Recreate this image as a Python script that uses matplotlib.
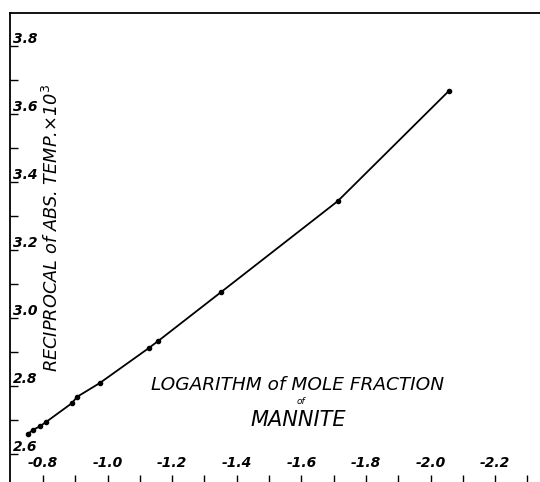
import matplotlib
matplotlib.use("Agg")
from matplotlib import pyplot as plt
import numpy as np

# data
log_mole_fraction = [-0.753, -0.769, -0.791, -0.809, -0.890, -0.905, -0.976,
                     -1.128, -1.156, -1.351, -1.713, -2.057]
recip_temp = [2.659, 2.671, 2.682, 2.694, 2.750, 2.768, 2.809,
              2.912, 2.932, 3.076, 3.344, 3.668]

x_ticks = [-0.8, -1.0, -1.2, -1.4, -1.6, -1.8, -2.0, -2.2]
x_tick_labels = ['-0.8', '-1.0', '-1.2', '-1.4', '-1.6', '-1.8', '-2.0', '-2.2']
y_ticks = [2.6, 2.8, 3.0, 3.2, 3.4, 3.6, 3.8]
y_tick_labels = ['2.6', '2.8', '3.0', '3.2', '3.4', '3.6', '3.8']

fig = plt.figure(figsize=(5.4, 4.82), dpi=100)
ax = fig.add_axes([10 / 540, 0.0, 530 / 540, 469 / 482])

ax.plot(log_mole_fraction, recip_temp, color='k', lw=1.3,
        marker='o', markersize=3)

ax.set_xlim(-0.698, -2.339)
ax.set_ylim(2.518, 3.897)

ax.spines['right'].set_visible(False)
ax.spines['bottom'].set_visible(False)
ax.spines['left'].set_linewidth(1.3)
ax.spines['top'].set_linewidth(1.3)

ax.set_xticks(x_ticks)
ax.set_xticklabels(x_tick_labels)
ax.set_xticks(np.arange(-0.9, -2.31, -0.2), minor=True)
ax.set_yticks(y_ticks)
ax.set_yticklabels(y_tick_labels)
ax.set_yticks(np.arange(2.7, 3.85, 0.2), minor=True)

ax.tick_params(axis='x', which='both', direction='in', length=5, width=1,
               bottom=True, top=False, pad=-19)
ax.tick_params(axis='y', which='both', direction='in', length=6, width=1,
               left=True, right=False, pad=-20)
ax.tick_params(axis='both', which='major', labelsize=10)
for lab in ax.get_xticklabels() + ax.get_yticklabels():
    lab.set_fontstyle('italic')
    lab.set_fontweight('bold')
for lab in ax.get_yticklabels():
    lab.set_verticalalignment('bottom')

# hand lettered axis titles, placed inside the axes
ax.text(0.079, 0.542, 'RECIPROCAL of ABS. TEMP.×10$^3$', rotation=90,
        transform=ax.transAxes, ha='center', va='center',
        fontsize=12.8, fontstyle='italic')
ax.text(0.542, 0.207, 'LOGARITHM of MOLE FRACTION', transform=ax.transAxes,
        ha='center', va='center', fontsize=13.3, fontstyle='italic')
ax.text(0.548, 0.171, 'of', transform=ax.transAxes,
        ha='center', va='center', fontsize=6.5, fontstyle='italic')
ax.text(0.543, 0.132, 'MANNITE', transform=ax.transAxes,
        ha='center', va='center', fontsize=15, fontstyle='italic')

fig.savefig('out.png', dpi=100)
